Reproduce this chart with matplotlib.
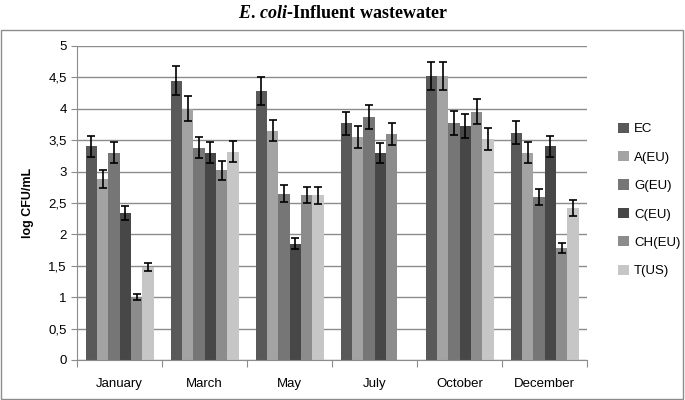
import numpy as np
import matplotlib.pyplot as plt
from matplotlib.patches import Rectangle

plt.rcParams['font.family'] = ['Liberation Sans', 'DejaVu Sans']
plt.rcParams['mathtext.fontset'] = 'custom'
plt.rcParams['mathtext.it'] = 'Liberation Serif:italic:bold'
plt.rcParams['mathtext.rm'] = 'Liberation Serif:bold'

months = ['January', 'March', 'May', 'July', 'October', 'December']
series = ['EC', 'A(EU)', 'G(EU)', 'C(EU)', 'CH(EU)', 'T(US)']
colors = ['#595959', '#a3a3a3', '#767676', '#474747', '#8c8c8c', '#c6c6c6']

ec = [3.40, 4.45, 4.28, 3.77, 4.52, 3.62]
a_eu = [2.88, 4.00, 3.65, 3.55, 4.52, 3.30]
g_eu = [3.30, 3.38, 2.65, 3.87, 3.78, 2.60]
c_eu = [2.34, 3.30, 1.85, 3.30, 3.73, 3.40]
ch_eu = [1.00, 3.02, 2.63, 3.60, 3.95, 1.78]
t_us = [1.48, 3.32, 2.62, 0.0, 3.52, 2.42]

ec_err = [0.16, 0.23, 0.22, 0.18, 0.22, 0.18]
a_err = [0.14, 0.20, 0.17, 0.17, 0.22, 0.17]
g_err = [0.17, 0.17, 0.13, 0.19, 0.19, 0.13]
c_err = [0.11, 0.17, 0.09, 0.16, 0.19, 0.17]
ch_err = [0.05, 0.15, 0.13, 0.18, 0.20, 0.08]
t_err = [0.07, 0.17, 0.13, np.nan, 0.17, 0.12]

values = [ec, a_eu, g_eu, c_eu, ch_eu, t_us]
errors = [ec_err, a_err, g_err, c_err, ch_err, t_err]

fig = plt.figure(figsize=(6.85, 4.0), dpi=100)
fig.patches.append(Rectangle((0.002, 0.003), 0.995, 0.922, transform=fig.transFigure,
                             fill=False, edgecolor='#8c8c8c', linewidth=1))
fig.text(0.5, 0.967, r'$\mathit{E.\,coli}$-Influent wastewater', ha='center', va='center',
         fontsize=13, fontweight='bold', family='Liberation Serif')

ax = fig.add_axes([0.1124, 0.1, 0.745, 0.785])
x = np.arange(len(months)) + 0.5
w = 0.1333
for i, (vals, errs) in enumerate(zip(values, errors)):
    pos = x + (i - 2.5) * w
    ax.bar(pos, vals, w, color=colors[i], label=series[i], zorder=2)
    ax.errorbar(pos, vals, yerr=errs, fmt='none', ecolor='black', elinewidth=1.2,
                capsize=3, capthick=1.2, zorder=3)

ax.set_xlim(0, 6)
ax.set_ylim(0, 5)
ax.set_yticks(np.arange(0, 5.01, 0.5))
ax.set_yticklabels([('%g' % v).replace('.', ',') for v in np.arange(0, 5.01, 0.5)])
ax.set_xticks(np.arange(0, 7))
ax.set_xticklabels([])
ax.set_xticks(x, minor=True)
ax.set_xticklabels(months, minor=True)
ax.tick_params(axis='x', which='minor', length=0, pad=13, labelsize=9.5)
ax.tick_params(axis='x', which='major', length=5, color='#8c8c8c')
ax.tick_params(axis='y', length=4, color='#8c8c8c', labelsize=9.5)
ax.yaxis.grid(True, color='#8c8c8c', linewidth=1, zorder=0)
ax.set_axisbelow(True)
for s in ['top', 'right']:
    ax.spines[s].set_visible(False)
for s in ['left', 'bottom']:
    ax.spines[s].set_color('#8c8c8c')
ax.set_ylabel('log CFU/mL', fontweight='bold', fontsize=9, labelpad=10)

handles, labels = ax.get_legend_handles_labels()
fig.legend(handles, labels, loc='center left', bbox_to_anchor=(0.885, 0.5),
           frameon=False, fontsize=9.5, handlelength=0.8, handleheight=0.8,
           handletextpad=0.4, labelspacing=1.2)

fig.savefig('out.png', dpi=100)
